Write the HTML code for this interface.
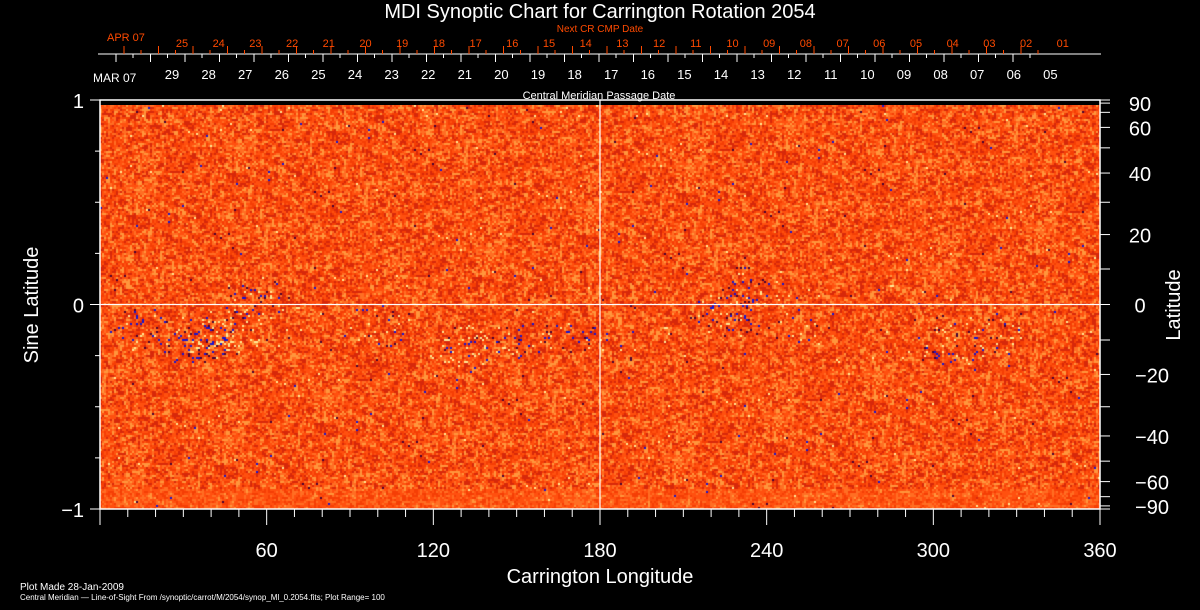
<!DOCTYPE html>
<html><head><meta charset="utf-8">
<style>
html,body{margin:0;padding:0;background:#000;}
#wrap{position:relative;width:1200px;height:610px;overflow:hidden;background:#000;font-family:"Liberation Sans",sans-serif;}
svg{position:absolute;left:0;top:0;}
canvas{position:absolute;left:100px;top:105px;}
</style></head>
<body>
<div id="wrap">
<canvas id="map" width="1000" height="404"></canvas>
<svg id="ov" width="1200" height="610"></svg>
</div>
<script>
// ---- data arrays ----
const lonTicks = [0,10,20,30,40,50,60,70,80,90,100,110,120,130,140,150,160,170,180,190,200,210,220,230,240,250,260,270,280,290,300,310,320,330,340,350,360];
const lonLabels = [60,120,180,240,300,360];
const sinTicks = [-1,-0.75,-0.5,-0.25,0,0.25,0.5,0.75,1];
const sinLabels = [-1,0,1];
const latTicks = [-90,-80,-70,-60,-50,-40,-30,-20,-10,0,10,20,30,40,50,60,70,80,90];
const latLabels = [-90,-60,-40,-20,0,20,40,60,90];
const cmpDates = ["29","28","27","26","25","24","23","22","21","20","19","18","17","16","15","14","13","12","11","10","09","08","07","06","05"];
const nextDates = ["25","24","23","22","21","20","19","18","17","16","15","14","13","12","11","10","09","08","07","06","05","04","03","02","01"];
// active regions
const regLon = [15,35,45,55,100,130,150,170,225,235,250,305,320];
const regLat = [-0.12,-0.2,-0.15,0.02,-0.1,-0.2,-0.18,-0.15,-0.05,0.1,-0.1,-0.2,-0.15];
const regBlue = [0.08,0.10,0.08,0.06,0.04,0.04,0.05,0.06,0.12,0.06,0.03,0.05,0.03];
const regBright = [0.02,0.03,0.12,0.06,0.03,0.10,0.04,0.03,0.03,0.03,0.02,0.04,0.03];

const L=100,R=1100,T=100,B=509,ZY=304.5;
const xS=v=>L+(v/360)*(R-L);
const yS=s=>ZY-s*(B-T)/2;
const NS="http://www.w3.org/2000/svg";
const svg=document.getElementById('ov');
function el(tag,attrs,name,inter,text){
  const e=document.createElementNS(NS,tag);
  for(const k in attrs)e.setAttribute(k,attrs[k]);
  
  
  if(text!==undefined)e.textContent=text;
  svg.appendChild(e);return e;
}
// ---- map texture ----
(function(){
  const c=document.getElementById('map'),ctx=c.getContext('2d');
  const W=1000,H=404,img=ctx.createImageData(W,H);
  let seed=12345;const rnd=()=>{seed=(seed*1103515245+12345)&0x7fffffff;return seed/0x7fffffff;};
  const cw=2,ch=2,nx=W/cw,ny=Math.ceil(H/ch);
  let prev=new Array(nx).fill(0.5);
  for(let j=0;j<ny;j++){
    const py=105+j*ch; const s=(ZY-py)/((B-T)/2);
    const lowRow=s<-0.9;
    let left=0.5;
    for(let i=0;i<nx;i++){
      const lon=(i*cw)/1000*360;
      let v=0.6*rnd()+0.2*left+0.2*prev[i]; prev[i]=v; left=v;
      let pb=0.003,pbr=0.003;
      for(let k=0;k<regLon.length;k++){
        const dx=(lon-regLon[k])/14, dy=(s-regLat[k])/0.12;
        const d=dx*dx+dy*dy;
        if(d<1){pb+=regBlue[k]*(1-d);pbr+=regBright[k]*(1-d);}
      }
      let r,g,b;const q=rnd();
      if(q<pb){ if(rnd()<0.6){r=20;g=20;b=210;}else{r=70;g=0;b=50;} }
      else if(q<pb+pbr){ r=255;g=235;b=150; }
      else{
        if(lowRow) v=0.55+0.6*(v-0.5);
        if(v>0.72){r=255;g=150;b=60;}
        else if(v>0.6){r=255;g=110;b=35;}
        else if(v>0.45){r=255;g=80;b=15;}
        else if(v>0.3){r=245;g=62;b=5;}
        else{r=215;g=40;b=10;}
      }
      for(let yy=0;yy<ch;yy++)for(let xx=0;xx<cw;xx++){
        const X=i*cw+xx,Y=j*ch+yy;if(Y>=H)continue;
        const o=(Y*W+X)*4;img.data[o]=r;img.data[o+1]=g;img.data[o+2]=b;img.data[o+3]=255;
      }
    }
  }
  ctx.putImageData(img,0,0);
})();
// ---- frame ----
el('rect',{x:L,y:T,width:R-L,height:B-T,fill:'none',stroke:'#fff','stroke-width':1.5},'plot-frame','false');
el('line',{x1:xS(180),y1:T,x2:xS(180),y2:B,stroke:'#fff','stroke-width':1.2},'central-meridian-line','false');
el('line',{x1:L,y1:yS(0),x2:R,y2:yS(0),stroke:'#fff','stroke-width':1.2},'equator-line','false');
// bottom axis
lonTicks.forEach(v=>{const maj=v%60===0;
  el('line',{x1:xS(v),y1:B,x2:xS(v),y2:B+(maj?16:8),stroke:'#fff','stroke-width':1},'x-tick','false');});
lonLabels.forEach(v=>el('text',{x:xS(v),y:557,fill:'#fff','font-size':20,'text-anchor':'middle'},'x-tick-label','false',v));
el('text',{x:600,y:583,fill:'#fff','font-size':20,'text-anchor':'middle'},'x-axis-title','false','Carrington Longitude');
// left axis
sinTicks.forEach(v=>el('line',{x1:L-(v%1===0?10:5),y1:yS(v),x2:L,y2:yS(v),stroke:'#fff','stroke-width':1},'y-tick','false'));
sinLabels.forEach(v=>el('text',{x:84,y:yS(v)+8,fill:'#fff','font-size':20,'text-anchor':'end'},'y-tick-label','false',v===-1?'\u22121':v));
el('text',{x:38,y:305,fill:'#fff','font-size':20,'text-anchor':'middle',transform:'rotate(-90 38 305)'},'y-axis-title','false','Sine Latitude');
// right axis
latTicks.forEach(v=>{const y=yS(Math.sin(v*Math.PI/180));
  el('line',{x1:R,y1:y,x2:R+10,y2:y,stroke:'#fff','stroke-width':1},'lat-tick','false');});
latLabels.forEach(v=>{let y=yS(Math.sin(v*Math.PI/180));if(v===90)y+=3;if(v===-90)y-=3;
  el('text',{x:v<0?1152:1140,y:y+8,fill:'#fff','font-size':20,'text-anchor':'middle'},'lat-tick-label','false',v<0?'\u2212'+(-v):v);});
el('text',{x:1180,y:305,fill:'#fff','font-size':20,'text-anchor':'middle',transform:'rotate(-90 1180 305)'},'lat-axis-title','false','Latitude');
// title
el('text',{x:600,y:18,fill:'#fff','font-size':20,'text-anchor':'middle'},'chart-title','false','MDI Synoptic Chart for Carrington Rotation 2054');
el('text',{x:600,y:32,fill:'#ff4a00','font-size':10,'text-anchor':'middle'},'next-cr-title','false','Next CR CMP Date');
// top date axis
el('line',{x1:98,y1:54,x2:1101,y2:54,stroke:'#fff','stroke-width':1},'date-axis-line','false');
for(let k=0;k<27;k++){const x=116+k*34.5;if(x>1040)break;
  el('line',{x1:x,y1:54,x2:x,y2:62,stroke:'#fff','stroke-width':1},'date-tick','false');
  if(x+17<1040)el('line',{x1:x+17,y1:54,x2:x+17,y2:58,stroke:'#fff','stroke-width':1},'date-minor-tick','false');}
for(let k=0;k<28;k++){const x=124+k*34.5;if(x>1052)break;
  el('line',{x1:x,y1:46,x2:x,y2:54,stroke:'#ff4a00','stroke-width':1},'next-date-tick','false');
  if(x+17<1052)el('line',{x1:x+17,y1:50,x2:x+17,y2:54,stroke:'#ff4a00','stroke-width':1},'next-date-minor-tick','false');}
cmpDates.forEach((d,i)=>el('text',{x:172+i*36.6,y:79,fill:'#fff','font-size':13,'text-anchor':'middle'},'cmp-date-label','false',d));
nextDates.forEach((d,i)=>el('text',{x:182+i*36.7,y:47,fill:'#ff4a00','font-size':11,'text-anchor':'middle'},'next-date-label','false',d));
el('text',{x:107,y:41,fill:'#ff4a00','font-size':11},'apr-label','false','APR 07');
el('text',{x:93,y:82,fill:'#fff','font-size':12},'mar-label','false','MAR 07');
el('text',{x:599,y:99,fill:'#fff','font-size':11,'text-anchor':'middle'},'cmp-axis-title','false','Central Meridian Passage Date');
// footer
el('text',{x:20,y:590,fill:'#fff','font-size':10},'plot-made-note','false','Plot Made 28-Jan-2009');
el('text',{x:20,y:600,fill:'#fff','font-size':8},'source-note','false','Central Meridian \u2014 Line-of-Sight From /synoptic/carrot/M/2054/synop_Ml_0.2054.fits; Plot Range=  100');
</script>
</body></html>
